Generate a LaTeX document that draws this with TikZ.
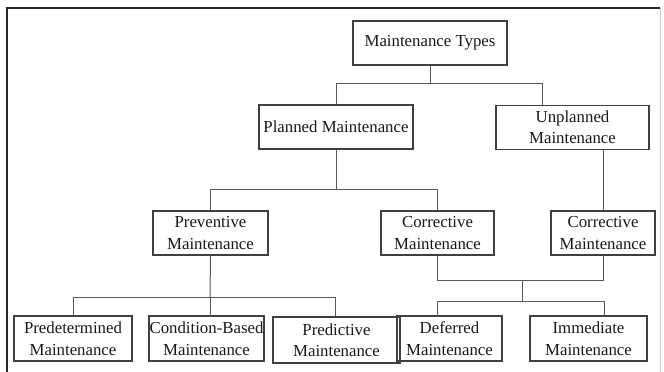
\documentclass[tikz,border=0pt]{standalone}
\usepackage{fontspec}
\setmainfont{Liberation Serif}
\begin{document}
\begin{tikzpicture}[x=1pt,y=-1pt,
  box/.style={draw=black!75,line width=1.1pt,inner sep=0pt,align=center,
    font=\fontsize{16.8}{21.5}\selectfont,text=black!90},
  link/.style={draw=black!65,line width=1pt},
  frameline/.style={draw=black!85,line width=1.6pt}]
\useasboundingbox (0,0) rectangle (664,372);
\fill[white] (0,0) rectangle (664,372);
% frame
\coordinate (f1) at (7,8);
\coordinate (f2) at (660,8);
\coordinate (f3) at (7,372);
\coordinate (f4) at (660,372);
\draw[frameline] (f3) -- (f1) -- (f2);
\draw[draw=black!20,line width=1pt] (f2) -- (f4);
% nodes
\node[box,minimum width=154pt,minimum height=44pt] (mt) at (430,43) {Maintenance Types};
\node[box,minimum width=154pt,minimum height=44pt] (pl) at (336,127) {Planned Maintenance};
\node[box,minimum width=153pt,minimum height=44pt] (un) at (572.5,127.5) {Unplanned\\Maintenance};
\node[box,minimum width=115pt,minimum height=44pt] (pv) at (210.5,233) {Preventive\\Maintenance};
\node[box,minimum width=113pt,minimum height=44pt] (c1) at (437.5,233) {Corrective\\Maintenance};
\node[box,minimum width=104pt,minimum height=44pt] (c2) at (603,233) {Corrective\\Maintenance};
\node[box,minimum width=118pt,minimum height=45pt] (pd) at (73,338.5) {Predetermined\\Maintenance};
\node[box,minimum width=115pt,minimum height=45pt] (cb) at (206.5,338.5) {Condition-Based\\Maintenance};
\node[box,minimum width=127pt,minimum height=46pt] (pr) at (336.5,340) {Predictive\\Maintenance};
\node[box,minimum width=105pt,minimum height=45pt] (df) at (449.5,338.5) {Deferred\\Maintenance};
\node[box,minimum width=117pt,minimum height=45pt] (im) at (588.5,338.5) {Immediate\\Maintenance};
% junction coordinates
\coordinate (j1) at (430,83);
\coordinate (j2) at (336,189);
\coordinate (j3) at (210,297);
\coordinate (m1) at (522,280);
\coordinate (j4) at (522,301);
% connectors
\draw[link] (mt.south) -- (j1);
\draw[link] (j1) -| (pl.north);
\draw[link] (j1) -| ([xshift=-30.5pt]un.north);
\draw[link] (pl.south) -- (j2);
\draw[link] (j2) -| (pv.north);
\draw[link] (j2) -| (c1.north);
\draw[link] (pv.south) -- (j3);
\draw[link] (j3) -| (pd.north);
\draw[link] (j3) -- (j3 |- cb.north);
\draw[link] (j3) -| ([xshift=-1.5pt]pr.north);
\draw[link] ([xshift=30.5pt]un.south) -- (c2.north);
\draw[link] (c1.south) |- (m1);
\draw[link] (c2.south) |- (m1);
\draw[link] (m1) -- (j4);
\draw[link] (j4) -| ([xshift=-12.5pt]df.north);
\draw[link] (j4) -| ([xshift=16pt]im.north);
\end{tikzpicture}
\end{document}
